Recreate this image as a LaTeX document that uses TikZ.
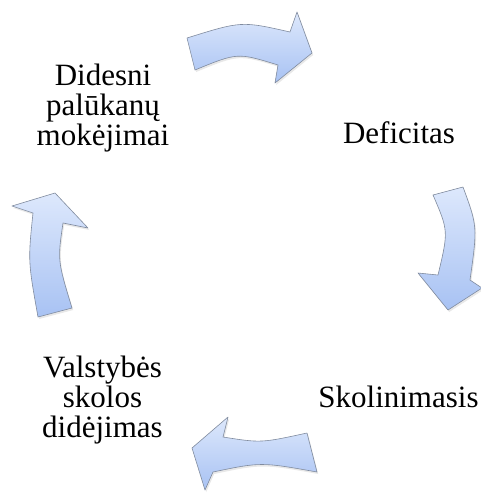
\documentclass[tikz,border=0pt]{standalone}
\usepackage{fontspec}
\setmainfont{Liberation Serif}
\usetikzlibrary{shadows}
\definecolor{arrtop}{HTML}{DDE8FC}
\definecolor{arrbot}{HTML}{A8C2F3}
\definecolor{arredge}{HTML}{808B9E}
\begin{document}
\begin{tikzpicture}[x=1pt,y=-1pt,
  cyclearrow/.style={draw=arredge, line width=0.6pt, line join=round,
    top color=arrtop, bottom color=arrbot,
    drop shadow={opacity=0.18, shadow xshift=1.2pt, shadow yshift=-2pt}},
  lbl/.style={inner sep=0pt, align=center, font=\fontsize{31}{30}\selectfont}]
\useasboundingbox (0,0) rectangle (481,493);
% top arrow
\path[cyclearrow] (187,38) .. controls (241.5,21) .. (290,32) -- (297,12) -- (312,53)
  -- (275,83) -- (278,65) .. controls (237.5,52.5) .. (195,70) -- cycle;
% right arrow
\path[cyclearrow] (433,195) -- (463,187) .. controls (477.5,226.5) .. (470,280)
  -- (482,288) -- (448,310) -- (418,273) -- (438,275) .. controls (448.5,231) .. cycle;
% bottom arrow
\path[cyclearrow] (307,433) -- (317,472) .. controls (261,462) .. (213,472)
  -- (205,490) -- (192,448) -- (228,417) -- (223,437) .. controls (261,443) .. cycle;
% left arrow
\path[cyclearrow] (38,317) -- (72,308) .. controls (57.5,260.5) .. (63,223)
  -- (88,228) -- (55,193) -- (12,206) -- (33,213) .. controls (28,261) .. cycle;
% labels
\node[lbl, anchor=base] (def) at (399,143) {Deficitas};
\node[lbl, anchor=base] (sko) at (398.5,407) {Skolinimasis};
\node[lbl] (did) at (103,107.8) {Didesni\\palūkanų\\mokėjimai};
\node[lbl] (val) at (102.5,399.8) {Valstybės\\skolos\\didėjimas};
\end{tikzpicture}
\end{document}
